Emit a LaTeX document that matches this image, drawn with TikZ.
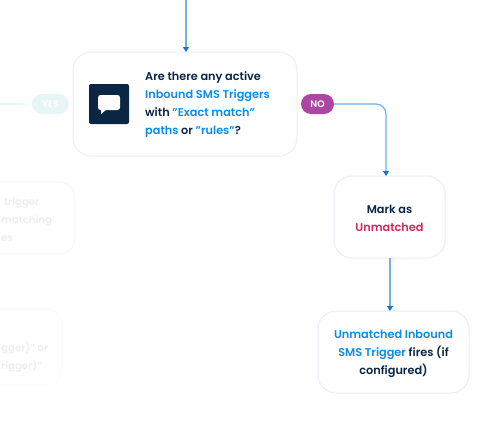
\documentclass[tikz,border=0pt]{standalone}
\usepackage{fontspec}
\setmainfont{Poppins}[BoldFont={Poppins SemiBold},Scale=1]
\usetikzlibrary{arrows.meta,calc}
\definecolor{navy}{HTML}{0B2545}
\definecolor{sky}{HTML}{0B8CE9}
\definecolor{crim}{HTML}{E0245E}
\definecolor{edge}{HTML}{ECEDF6}
\definecolor{wire}{HTML}{6FB1EA}
\definecolor{tipc}{HTML}{1A74D2}
\definecolor{ghost}{HTML}{EEEEF2}
\definecolor{plum}{HTML}{AB47A3}
\definecolor{paleteal}{HTML}{E8F5F5}
\newcommand{\bl}[1]{\textcolor{sky}{#1}}
\tikzset{x=1pt,y=-1pt,
 card/.style={draw=edge,line width=1pt,fill=white,rounded corners=18pt,inner sep=0pt,minimum width=#1},
 ghostcard/.style={draw=ghost!60,line width=.8pt,fill=white,rounded corners=16pt,inner sep=0pt},
 pill/.style={fill=#1,rounded corners=10pt,inner sep=0pt,minimum height=20pt,text=white,font=\fontsize{9.4}{9.4}\selectfont\bfseries},
 body/.style={align=center,text=navy,font=\fontsize{11.3}{18}\selectfont\bfseries,inner sep=0pt},
 wireline/.style={draw=wire,line width=1.2pt,-{Triangle[length=5pt,width=6pt,color=tipc]}},
 ghosttext/.style={text=ghost,font=\fontsize{10.2}{18}\selectfont\bfseries,inner sep=0pt,anchor=west}}
\begin{document}
\begin{tikzpicture}
\useasboundingbox (0,0) rectangle (504,426);
\clip (0,0) rectangle (504,426);
\fill[white] (0,0) rectangle (504,426);
% faded parts
\node[ghostcard,minimum width=130pt,minimum height=72pt] (g1) at (10,218) {};
\node[ghostcard,minimum width=120pt,minimum height=76pt,draw=ghost!25] (g2) at (2,347) {};
\node[ghosttext] (g1a) at (4,203) {trigger};
\node[ghosttext] (g1b) at (1,221) {matching};
\node[ghosttext] (g1c) at (1,239) {es};
\node[ghosttext] (g2a) at (1,348) {gger)” or};
\node[ghosttext] (g2b) at (1,366) {rigger)”};
\node[pill=paleteal,minimum width=37pt] (yes) at (50.5,104) {YES};
\coordinate (yesend) at (0,104);
\coordinate (yesstart) at (25,104);
\draw[draw=paleteal,line width=1.2pt] (yesstart) -- (yesend);
% cards
\node[card=224pt,minimum height=104pt] (q) at (185,104) {};
\node[card=111pt,minimum height=82pt] (mark) at (389.5,217) {};
\node[card=151pt,minimum height=82pt] (fire) at (393.5,352) {};
\node[pill=plum,minimum width=33pt] (no) at (317.5,104) {NO};
% icon
\node[fill=navy,rounded corners=2pt,minimum size=40pt,inner sep=0pt] (icon) at (109,104) {};
\fill[white,rounded corners=2.5pt] (98,95) rectangle (120,110);
\fill[white] (101,108) -- (101,114) -- (107,109) -- cycle;
% texts
\node[body,align=left,anchor=west] (qt) at (145,105) {Are there any active\\\bl{Inbound SMS Triggers}\\with \bl{”Exact match”}\\\bl{paths} or \bl{”rules”}?};
\node[body] (mt) at ([yshift=-1pt]mark.center) {Mark as\\\textcolor{crim}{Unmatched}};
\node[body] (ft) at ([yshift=-1.5pt]fire.center) {\bl{Unmatched Inbound}\\\bl{SMS Trigger} fires (if\\configured)};
% connectors
\coordinate (topstart) at (186,0);
\coordinate (qin) at (186,52);
\coordinate (markin) at (386,176);
\coordinate (markout) at (390,258);
\coordinate (firein) at (390,311);
\draw[wireline] (topstart) -- (qin);
\draw[wireline,rounded corners=10pt] (no.east) -| (markin);
\draw[wireline] (markout) -- (firein);
\end{tikzpicture}
\end{document}
